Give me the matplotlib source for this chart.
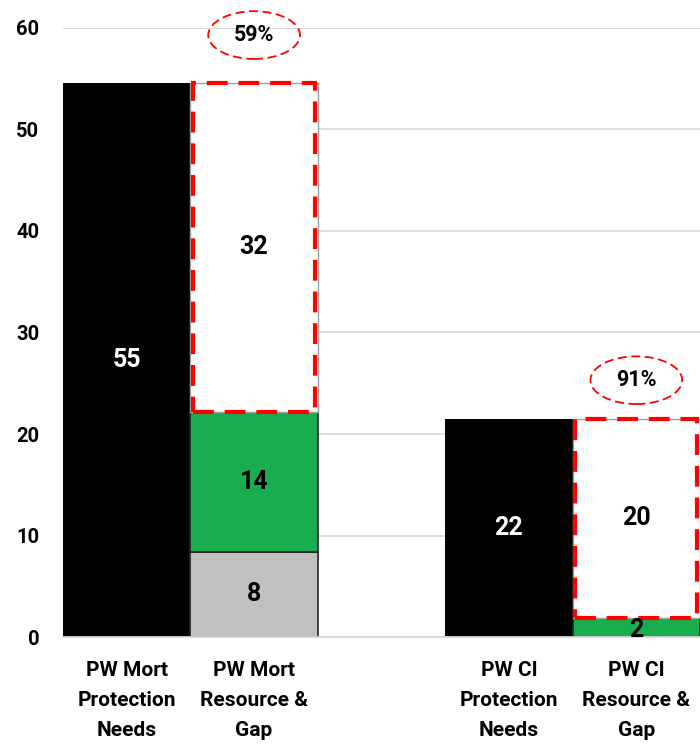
import matplotlib
matplotlib.use("Agg")
import matplotlib.pyplot as plt
from matplotlib.patches import Ellipse

plt.rcParams['font.family'] = ['Roboto', 'DejaVu Sans']
plt.rcParams['font.weight'] = 'bold'

# Category labels (positions 0,1 and 3,4 leave a blank slot between groups)
categories = ["PW Mort\nProtection\nNeeds", "PW Mort\nResource &\nGap",
              "PW CI\nProtection\nNeeds", "PW CI\nResource &\nGap"]
positions = [0, 1, 3, 4]

# Protection needs (black bars)
needs = [54.6, 21.5]
# Resource & gap stacks
existing = [8.4, 0.0]      # grey segment
resource = [13.8, 1.9]     # green segment
gap = [32.4, 19.6]         # dashed white segment

fig = plt.figure(figsize=(7.0, 7.44), dpi=100)
ax = fig.add_axes([0.09, 0.1438, 0.91, 0.8186])
ax.set_xlim(-0.5, 4.5)
ax.set_ylim(0, 60)

GREEN = "#18AE4F"
GREY = "#C0C0C0"
RED = "#FF0000"

ax.set_yticks(range(0, 61, 10))
ax.yaxis.grid(True, color="#D9D9D9", linewidth=1.3)
ax.set_axisbelow(True)
for s in ["top", "right", "left"]:
    ax.spines[s].set_visible(False)
ax.spines["bottom"].set_color("#D9D9D9")
ax.spines["bottom"].set_linewidth(1.3)

need_x = [positions[0], positions[2]]
stack_x = [positions[1], positions[3]]

LABEL_FS = 18

# Protection needs
ax.bar(need_x, needs, width=1.0, color="black", zorder=2)
for x, v in zip(need_x, needs):
    ax.text(x, v / 2, f"{v:.0f}", color="white", ha="center", va="center",
            fontsize=LABEL_FS, fontweight="bold", zorder=5)

# Resource & gap stacks
ax.bar(stack_x, existing, width=1.0, color=GREY, edgecolor="#222222",
       linewidth=1.2, zorder=2)
ax.bar(stack_x, resource, bottom=existing, width=1.0, color=GREEN,
       edgecolor="#222222", linewidth=1.2, zorder=2)
base = [e + r for e, r in zip(existing, resource)]
ax.bar(stack_x, gap, bottom=base, width=1.0, color="white",
       edgecolor="#A0A0A0", linewidth=1.0, zorder=2)
dashed = ax.bar(stack_x, gap, bottom=base, width=0.96, fill=False,
                edgecolor=RED, linewidth=3.0, linestyle=(0, (5, 2.6)),
                zorder=4)
for p in dashed:
    p.set_clip_on(False)

for x, e, r, g in zip(stack_x, existing, resource, gap):
    if e > 0:
        ax.text(x, e / 2, f"{e:.0f}", color="black", ha="center",
                va="center", fontsize=LABEL_FS, fontweight="bold", zorder=5)
    ax.text(x, e + r / 2 - (0.25 if r < 3 else 0), f"{r:.0f}", color="black",
            ha="center", va="center", fontsize=LABEL_FS, fontweight="bold",
            zorder=5)
    ax.text(x, e + r + g / 2, f"{g:.0f}", color="black", ha="center",
            va="center", fontsize=LABEL_FS, fontweight="bold", zorder=5)

# Gap share callouts
offsets = [4.7, 3.8]
for x, n, g, off in zip(stack_x, needs, gap, offsets):
    cy = n + off
    ax.add_patch(Ellipse((x, cy), 0.72, 4.7, fill=False, edgecolor=RED,
                         linewidth=1.3, linestyle=(0, (5, 2.5)), zorder=5,
                         clip_on=False))
    ax.text(x, cy, f"{g / n * 100:.0f}%", ha="center", va="center",
            fontsize=15.5, fontweight="bold", color="black", zorder=6)

ax.set_xticks(positions)
ax.set_xticklabels(categories, fontsize=15, fontweight="bold",
                   linespacing=1.75)
ax.tick_params(axis="x", length=0, pad=17)
ax.tick_params(axis="y", length=0, pad=17, labelsize=14.5)
for lbl in ax.get_yticklabels():
    lbl.set_fontweight("bold")

fig.savefig("out.png", dpi=100)
